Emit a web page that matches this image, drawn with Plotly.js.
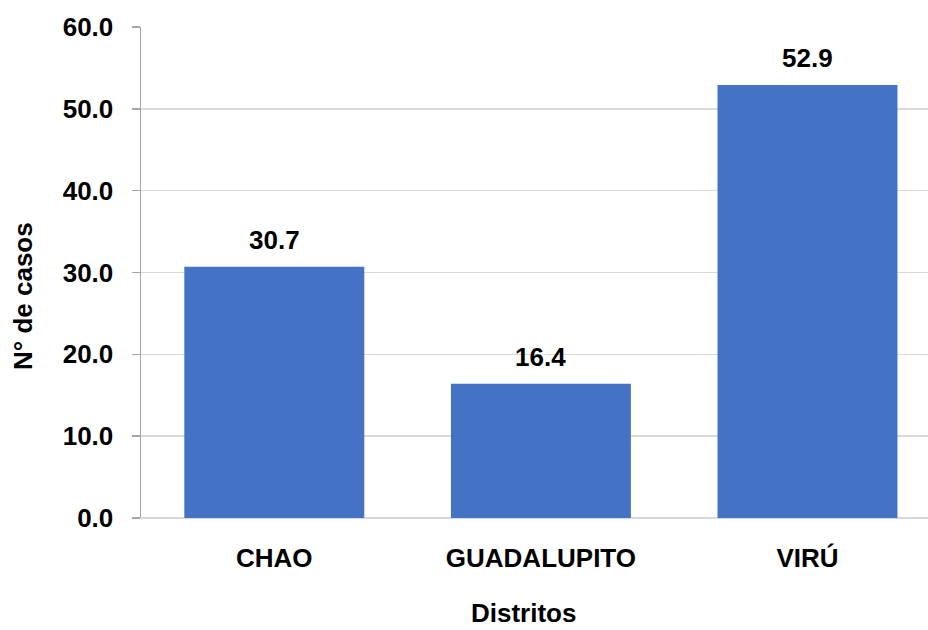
<!DOCTYPE html>
<html>
<head>
<meta charset="utf-8">
<script src="https://cdn.plot.ly/plotly-3.0.1.min.js"></script>
<style>html,body{margin:0;padding:0;background:#fff;}</style>
</head>
<body>
<div id="chart" style="width:928px;height:630px;"></div>
<script>
const categories = ["CHAO", "GUADALUPITO", "VIRÚ"];
const values = [30.7, 16.4, 52.9];
const yTickVals = [0, 10, 20, 30, 40, 50, 60];
const yTitle = "N° de casos";
const xTitle = "Distritos";

const FONT = "Liberation Sans, Arial, sans-serif";

const trace = {
  type: "bar",
  x: categories,
  y: values,
  width: 0.675,
  marker: { color: "#4472C4" },
  hoverinfo: "skip"
};

const labelAnnotations = categories.map((c, i) => ({
  x: c, y: values[i], xref: "x", yref: "y",
  text: values[i].toFixed(1),
  showarrow: false, yanchor: "bottom", yshift: 10,
  font: { family: FONT, size: 26, color: "#000", weight: "bold" }
}));

const layout = {
  width: 928, height: 630,
  margin: { l: 141, r: 0, t: 27, b: 112, pad: 0 },
  paper_bgcolor: "#fff", plot_bgcolor: "#fff",
  showlegend: false,
  font: { family: FONT, size: 26, color: "#000", weight: "bold" },
  xaxis: {
    type: "category",
    range: [-0.5, 2.452],
    showgrid: false, zeroline: false,
    showline: false, ticks: "",
    ticklabelstandoff: 22,
    tickfont: { family: FONT, size: 26, color: "#000", weight: "bold" },
    fixedrange: true
  },
  yaxis: {
    range: [0, 60],
    tickvals: yTickVals,
    ticktext: yTickVals.map(v => v.toFixed(1)),
    showgrid: true, gridcolor: "#d9d9d9", gridwidth: 1.5,
    zeroline: true, zerolinecolor: "#d9d9d9", zerolinewidth: 1.5,
    showline: true, linecolor: "#a6a6a6", linewidth: 1.5,
    ticks: "outside", ticklen: 8, tickcolor: "#a6a6a6", tickwidth: 1.5,
    ticklabelstandoff: 13,
    tickfont: { family: FONT, size: 26, color: "#000", weight: "bold" },
    fixedrange: true
  },
  annotations: labelAnnotations.concat([
    {
      xref: "paper", yref: "paper", x: (523 - 141) / 787, y: (518 - 613) / 491,
      text: xTitle, showarrow: false, xanchor: "center", yanchor: "middle",
      font: { family: FONT, size: 26, color: "#000", weight: "bold" }
    },
    {
      xref: "paper", yref: "paper", x: (23 - 141) / 787, y: (518 - 296) / 491,
      text: yTitle, showarrow: false, textangle: -90, xanchor: "center", yanchor: "middle",
      font: { family: FONT, size: 26, color: "#000", weight: "bold" }
    }
  ])
};

Plotly.newPlot("chart", [trace], layout, { displayModeBar: false, staticPlot: true });
</script>
</body>
</html>
